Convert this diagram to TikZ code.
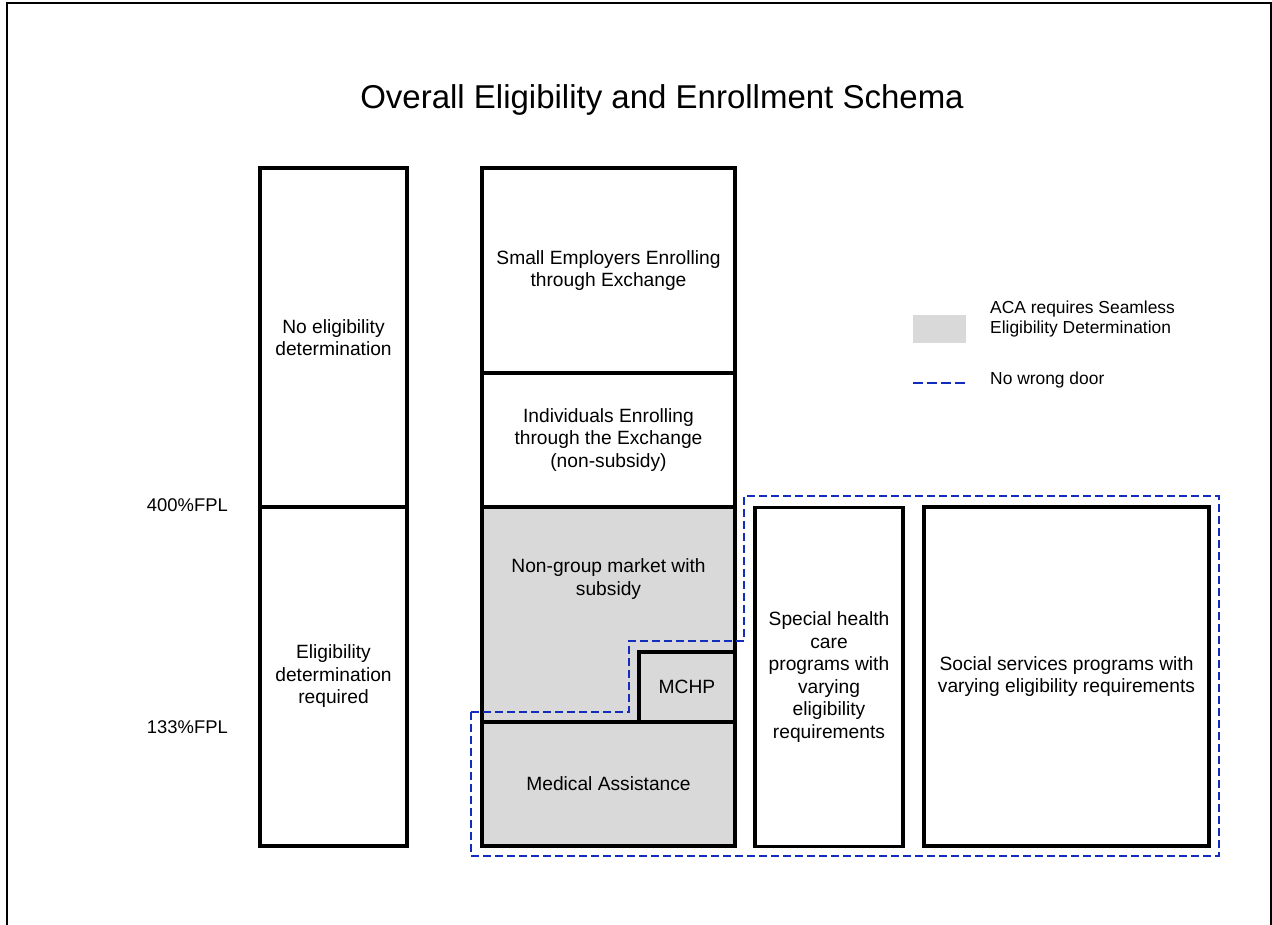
\documentclass[tikz,border=0pt]{standalone}
\usepackage{fontspec}
\setmainfont{Liberation Sans}
\definecolor{cellgray}{RGB}{217,217,217}
\definecolor{doorblue}{RGB}{18,45,190}
\tikzset{
  box/.style={draw=black, line width=3.3pt, inner sep=0pt, align=center,
    font=\fontsize{19.2}{22.5}\selectfont},
  graybox/.style={box, fill=cellgray},
  txt/.style={inner sep=0pt, align=center, font=\fontsize{19.2}{22.5}\selectfont},
  fpl/.style={inner sep=0pt, anchor=east, font=\fontsize{18.4}{22}\selectfont},
  legtxt/.style={inner sep=0pt, anchor=west, align=left, font=\fontsize{17.4}{20}\selectfont},
  door/.style={draw=doorblue, line width=2.6pt, dash pattern=on 8pt off 4pt},
  frame/.style={draw=black, line width=2pt}
}
\begin{document}
\begin{tikzpicture}[x=1pt,y=-1pt]
\useasboundingbox (0,0) rectangle (1272,925);
\draw[frame] (6.5,935) -- (6.5,3) -- (1270.7,3) -- (1270.7,935);

\node[inner sep=0pt, font=\fontsize{33}{39}\selectfont] (title) at (662,100) {Overall Eligibility and Enrollment Schema};

% left column
\node[box, minimum width=147pt, minimum height=339pt] (noelig) at (333.5,337.5) {No eligibility\\determination};
\node[box, minimum width=147pt, minimum height=339pt] (eligreq) at (333.5,676.5) {Eligibility\\determination\\required};

% middle column
\node[box, minimum width=253pt, minimum height=205pt] (small) at (608.5,270.5) {Small Employers Enrolling\\through Exchange};
\node[box, minimum width=253pt, minimum height=134pt] (indiv) at (608.5,440) {Individuals Enrolling\\through the Exchange\\(non-subsidy)};
\node[graybox, minimum width=253pt, minimum height=215pt] (nongroup) at (608.5,614.5) {};
\node[txt] (nongrouptxt) at (608.5,579) {Non-group market with\\subsidy};
\node[graybox, minimum width=96pt, minimum height=70pt] (mchp) at (687,687) {MCHP};
\node[graybox, minimum width=253pt, minimum height=124pt] (medassist) at (608.5,784) {Medical Assistance};

% right boxes
\node[box, minimum width=148pt, minimum height=339pt] (special) at (829,677) {Special health\\care\\programs with\\varying\\eligibility\\requirements};
\node[box, minimum width=285pt, minimum height=339pt] (social) at (1066.5,676.5) {Social services programs with\\varying eligibility requirements};

% FPL labels
\node[fpl] (fpl400) at (228,505) {400\%FPL};
\node[fpl] (fpl133) at (228,727) {133\%FPL};

% no wrong door outline
\draw[door] (471,712) -- (629,712) -- (629,641) -- (744,641) -- (744,496) -- (1219,496) -- (1219,856) -- (471,856) -- cycle;

% legend
\node[fill=cellgray, inner sep=0pt, minimum width=53pt, minimum height=28pt] (legbox) at (939.5,329) {};
\node[legtxt] (legboxtxt) at (990,319) {ACA requires Seamless\\Eligibility Determination};
\coordinate (legA) at (913,383);
\coordinate (legB) at (966,383);
\draw[draw=doorblue, line width=2.6pt, dash pattern=on 10pt off 4pt] (legA) -- (legB);
\node[legtxt] (legdoortxt) at (990,380) {No wrong door};
\end{tikzpicture}
\end{document}
